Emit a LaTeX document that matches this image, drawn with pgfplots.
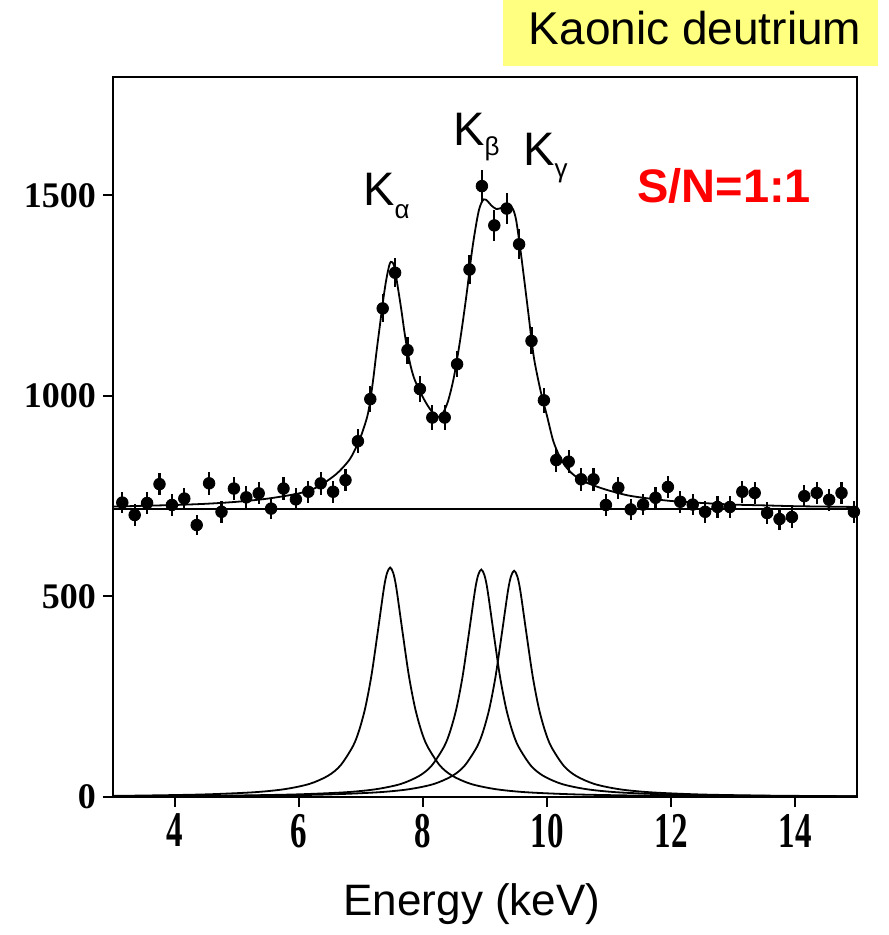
\documentclass[border=0pt]{standalone}
\usepackage{pgfplots}
\pgfplotsset{compat=1.18}
\usepackage{pgfplotstable}
\usepackage{fontspec}
\setmainfont{Liberation Sans}
\newfontfamily\tickfont{Liberation Serif}
\definecolor{hlyellow}{RGB}{255,255,128}
\definecolor{snred}{RGB}{255,0,0}
\newcommand{\xl}[1]{\scalebox{0.66}[1]{#1}}
\newcommand{\Klab}[2]{K\raisebox{#2}{\fontsize{13}{13}\selectfont #1}}

% measured spectrum (energy, counts, error)
\pgfplotstableread{
E cnt err
3.15 734 27.1
3.35 703 26.5
3.55 733 27.1
3.75 780 27.9
3.95 728 27.0
4.15 744 27.3
4.35 678 26.0
4.55 782 28.0
4.75 711 26.7
4.95 769 27.7
5.15 747 27.3
5.35 757 27.5
5.55 719 26.8
5.75 769 27.7
5.95 742 27.2
6.15 761 27.6
6.35 782 28.0
6.55 761 27.6
6.75 790 28.1
6.95 887 29.8
7.15 992 31.5
7.35 1218 34.9
7.55 1307 36.2
7.75 1114 33.4
7.95 1017 31.9
8.15 946 30.8
8.35 946 30.8
8.55 1079 32.8
8.75 1315 36.3
8.95 1523 39.0
9.15 1425 37.7
9.35 1467 38.3
9.55 1378 37.1
9.75 1137 33.7
9.95 989 31.4
10.15 840 29.0
10.35 836 28.9
10.55 792 28.1
10.75 792 28.1
10.95 728 27.0
11.15 771 27.8
11.35 717 26.8
11.55 729 27.0
11.75 746 27.3
11.95 773 27.8
12.15 736 27.1
12.35 729 27.0
12.55 711 26.7
12.75 723 26.9
12.95 723 26.9
13.15 761 27.6
13.35 758 27.5
13.55 708 26.6
13.75 693 26.3
13.95 698 26.4
14.15 750 27.4
14.35 758 27.5
14.55 741 27.2
14.75 758 27.5
14.95 711 26.7
}\spectrum

% total fit
\pgfplotstableread{
E fit
3.0 724
3.5 726
4.0 728
4.5 731
5.0 736
5.5 744
6.0 757
6.3 773
6.6 805
6.8 838
6.9 865
7.0 900
7.1 948
7.15 989
7.2 1045
7.25 1110
7.3 1170
7.35 1230
7.4 1283
7.45 1322
7.48 1334
7.52 1330
7.55 1312
7.6 1265
7.65 1215
7.7 1160
7.75 1112
7.8 1075
7.85 1047
7.9 1028
8.0 996
8.1 970
8.2 951
8.25 948
8.3 951
8.4 985
8.5 1048
8.6 1140
8.7 1250
8.8 1372
8.9 1462
8.98 1490
9.05 1484
9.1 1475
9.18 1466
9.25 1468
9.3 1472
9.38 1476
9.45 1466
9.5 1440
9.55 1388
9.6 1330
9.7 1205
9.75 1140
9.8 1085
9.9 1010
10.0 950
10.1 888
10.2 850
10.3 824
10.4 807
10.5 795
10.6 786
10.8 774
11.0 764
11.3 752
11.6 745
12.0 738
12.5 733
13.0 729
13.5 727
14.0 725
14.5 724
15.0 723
}\fitcurve

\begin{document}
\begin{tikzpicture}
\path (-56.5pt,-69pt) rectangle (387.5pt,398.5pt);
\fill[hlyellow] (195pt,365.5pt) rectangle (382.5pt,398.5pt);
\node[anchor=base, font=\fontsize{23}{23}\selectfont, inner sep=0pt] at (291pt,376pt) {Kaonic deutrium};
\begin{axis}[
  at={(0pt,0pt)}, anchor=south west,
  scale only axis, width=372pt, height=360pt,
  xmin=3, xmax=15, ymin=0, ymax=1795,
  clip=false,
  axis line style={line width=1pt},
  tick align=outside, tick pos=left,
  major tick length=5pt,
  tick style={line width=1pt, black},
  xtick={4,6,8,10,12,14},
  xticklabels={\xl{4},\xl{6},\xl{8},\xl{10},\xl{12},\xl{14}},
  ytick={0,500,1000,1500},
  yticklabels={0,500,1000,1500},
  xticklabel style={font=\tickfont\bfseries\fontsize{25}{25}\selectfont},
  yticklabel style={font=\tickfont\bfseries\fontsize{18}{18}\selectfont},
]
% baseline
\addplot[black, line width=1pt] coordinates {(3,719) (15,719)};
% K alpha
\addplot[black, line width=0.9pt, smooth] coordinates {
(3.0,2.9) (3.47,3.6) (4.47,6.4) (5.27,11.8) (5.77,19.6) (6.17,32.7) (6.47,53.1)
(6.67,78.9) (6.87,126.7) (6.97,166.2) (7.07,223.2) (7.17,304.4) (7.27,411.3)
(7.37,521.1) (7.42,558.4) (7.47,572) (7.52,558.4) (7.57,521.1) (7.67,411.3)
(7.77,304.4) (7.87,223.2) (7.97,166.2) (8.07,126.7) (8.27,78.9) (8.47,53.1)
(8.77,32.7) (9.17,19.6) (9.67,11.8) (10.47,6.4) (11.47,3.6) (12.47,2.3)
(13.47,1.6) (15.0,1.0)};
% K beta
\addplot[black, line width=0.9pt, smooth] coordinates {
(3.0,1.6) (3.94,2.3) (4.94,3.6) (5.94,6.4) (6.74,11.7) (7.24,19.4) (7.64,32.4)
(7.94,52.7) (8.14,78.2) (8.34,125.6) (8.44,164.8) (8.54,221.2) (8.64,301.8)
(8.74,407.7) (8.84,516.5) (8.89,553.4) (8.94,567) (8.99,553.4) (9.04,516.5)
(9.14,407.7) (9.24,301.8) (9.34,221.2) (9.44,164.8) (9.54,125.6) (9.74,78.2)
(9.94,52.7) (10.24,32.4) (10.64,19.4) (11.14,11.7) (11.94,6.4) (12.94,3.6)
(13.94,2.3) (15.0,1.6)};
% K gamma
\addplot[black, line width=0.9pt, smooth] coordinates {
(3.0,1.4) (3.47,1.6) (4.47,2.3) (5.47,3.6) (6.47,6.3) (7.27,11.7) (7.77,19.3)
(8.17,32.2) (8.47,52.4) (8.67,77.8) (8.87,124.9) (8.97,163.9) (9.07,220.1)
(9.17,300.2) (9.27,405.6) (9.37,513.8) (9.42,550.5) (9.47,564) (9.52,550.5)
(9.57,513.8) (9.67,405.6) (9.77,300.2) (9.87,220.1) (9.97,163.9) (10.07,124.9)
(10.27,77.8) (10.47,52.4) (10.77,32.2) (11.17,19.3) (11.67,11.7) (12.47,6.3)
(13.47,3.6) (14.47,2.3) (15.0,1.9)};
% total fit
\addplot[black, line width=0.9pt, smooth] table[x=E, y=fit] {\fitcurve};
% data
\addplot[black, only marks, mark=*, mark size=2.9pt,
  error bars/.cd, y dir=both, y explicit, error mark=none,
  error bar style={line width=1.1pt, black}]
  table[x=E, y=cnt, y error=err] {\spectrum};
\node[anchor=base west, font=\fontsize{23.5}{23.5}\selectfont, inner sep=0pt] at (axis cs:7.03,1475) {\Klab{α}{-6.5pt}};
\node[anchor=base west, font=\fontsize{23.5}{23.5}\selectfont, inner sep=0pt] at (axis cs:8.48,1625) {\Klab{β}{-5pt}};
\node[anchor=base west, font=\fontsize{23.5}{23.5}\selectfont, inner sep=0pt] at (axis cs:9.61,1575) {\Klab{γ}{-6pt}};
\node[anchor=base west, font=\bfseries\fontsize{23.5}{23.5}\selectfont, text=snred, inner sep=0pt] at (axis cs:11.45,1483) {S/N=1:1};
\end{axis}
\node[anchor=base, font=\fontsize{22}{22}\selectfont, inner sep=0pt] at (179.5pt,-59pt) {Energy (keV)};
\end{tikzpicture}
\end{document}
